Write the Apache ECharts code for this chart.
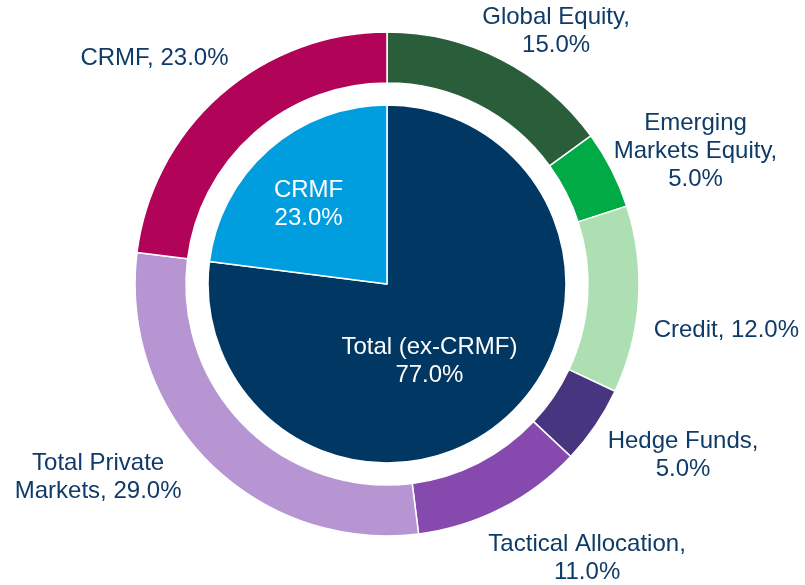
<!DOCTYPE html>
<html>
<head>
<meta charset="utf-8">
<script src="https://cdn.jsdelivr.net/npm/echarts@6/dist/echarts.min.js"></script>
<style>
  html, body { margin: 0; padding: 0; background: #fff; }
  #chart { width: 805px; height: 585px; }
</style>
</head>
<body>
<div id="chart"></div>
<script>
// outer ring: asset classes
var outerNames = ['Global Equity', 'Emerging\nMarkets Equity', 'Credit', 'Hedge Funds',
                  'Tactical Allocation', 'Total Private\nMarkets', 'CRMF'];
var outerValues = [15, 5, 12, 5, 11, 29, 23];
var outerBreak = [true, true, false, true, true, false, false];   // value on its own line?
var outerColors = ['#2a5e3a', '#00ab45', '#addfb3', '#47357f', '#8649ae', '#b795d3', '#b10358'];

// inner pie
var innerNames = ['Total (ex-CRMF)', 'CRMF'];
var innerValues = [77, 23];
var innerColors = ['#013763', '#009ddf'];

var cx = 387, cy = 284;
var textColor = '#0f3b68';

// label nudges from the slice mid-angle point (the original labels were placed by hand)
var outerNudge = [[17, 46], [10, 19], [5, 25], [19, -17], [48, -24], [-52, -44], [-11, 26]];
var innerNudge = [[-31, -6], [-5, 4]];

function midAngles(values) {
    var total = 0, acc = 0;
    values.forEach(function (v) { total += v; });
    return values.map(function (v) {
        var a = (acc + v / 2) / total * 360;
        acc += v;
        return a;
    });
}
var outerMid = midAngles(outerValues);
var innerMid = midAngles(innerValues);

function placeAt(angle, r, nudge) {
    var rad = angle * Math.PI / 180;
    return {
        x: cx + r * Math.sin(rad) + nudge[0],
        y: cy - r * Math.cos(rad) + nudge[1],
        align: 'center',
        verticalAlign: 'middle'
    };
}

var myChart = echarts.init(document.getElementById('chart'));

var option = {
    backgroundColor: '#fff',
    animation: false,
    series: [
        {
            name: 'inner',
            type: 'pie',
            center: [cx, cy],
            radius: [0, 179],
            startAngle: 90,
            clockwise: true,
            avoidLabelOverlap: false,
            itemStyle: { borderColor: '#fff', borderWidth: 1.5 },
            label: {
                show: true,
                position: 'inside',
                color: '#fff',
                fontFamily: 'Liberation Sans, Arial, sans-serif',
                fontSize: 24,
                lineHeight: 28,
                formatter: function (p) {
                    return innerNames[p.dataIndex] + '\n' + innerValues[p.dataIndex].toFixed(1) + '%';
                }
            },
            labelLayout: function (p) {
                return placeAt(innerMid[p.dataIndex], 111, innerNudge[p.dataIndex]);
            },
            emphasis: { disabled: true },
            data: innerValues.map(function (v, i) {
                return { value: v, name: innerNames[i], itemStyle: { color: innerColors[i] } };
            })
        },
        {
            name: 'outer',
            type: 'pie',
            center: [cx, cy],
            radius: [201, 252],
            startAngle: 90,
            clockwise: true,
            avoidLabelOverlap: false,
            itemStyle: { borderColor: '#fff', borderWidth: 1.5 },
            label: {
                show: true,
                position: 'outside',
                color: textColor,
                fontFamily: 'Liberation Sans, Arial, sans-serif',
                fontSize: 24,
                lineHeight: 28,
                formatter: function (p) {
                    var i = p.dataIndex;
                    return outerNames[i] + ',' + (outerBreak[i] ? '\n' : ' ') + outerValues[i].toFixed(1) + '%';
                }
            },
            labelLine: { show: false },
            labelLayout: function (p) {
                return placeAt(outerMid[p.dataIndex], 335, outerNudge[p.dataIndex]);
            },
            emphasis: { disabled: true },
            data: outerValues.map(function (v, i) {
                return { value: v, name: outerNames[i], itemStyle: { color: outerColors[i] } };
            })
        }
    ]
};
myChart.setOption(option);
</script>
</body>
</html>
